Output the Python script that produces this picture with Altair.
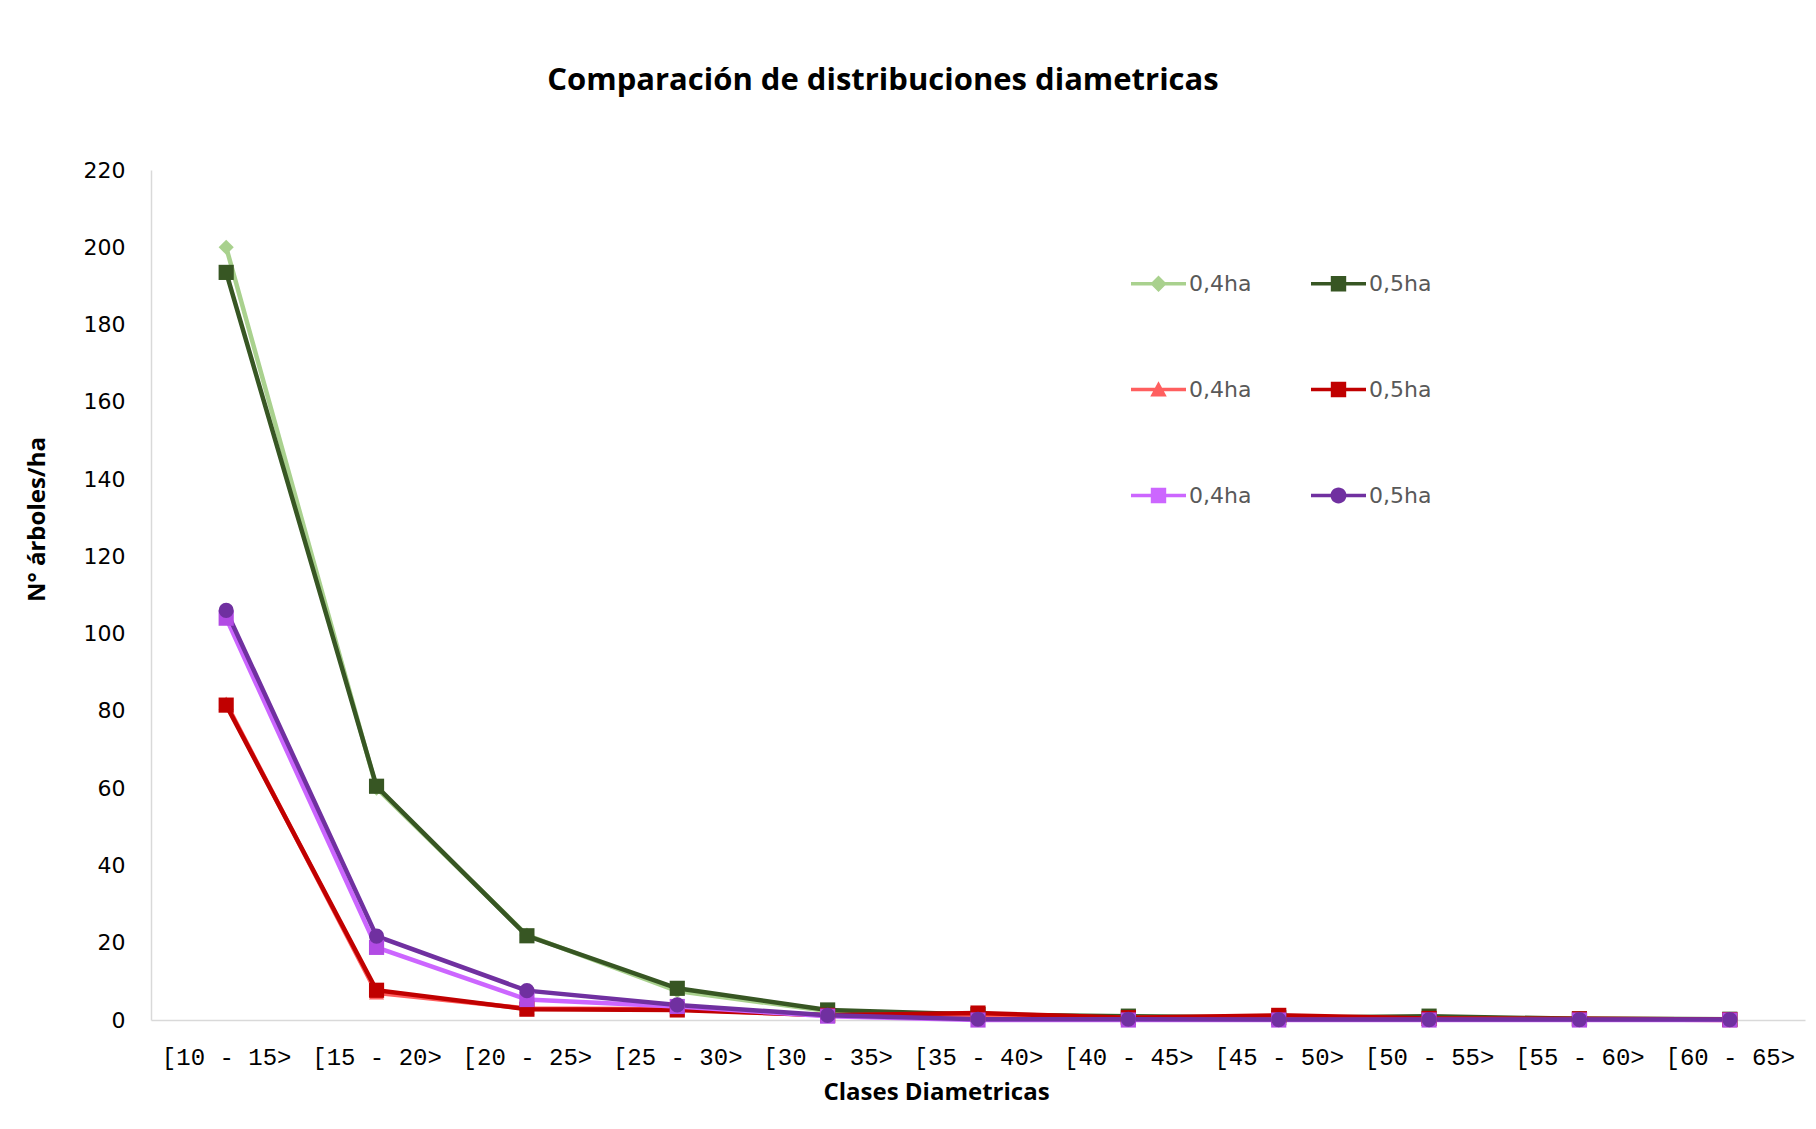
import altair as alt
import pandas as pd

categorias = ["[10 - 15>", "[15 - 20>", "[20 - 25>", "[25 - 30>", "[30 - 35>", "[35 - 40>",
              "[40 - 45>", "[45 - 50>", "[50 - 55>", "[55 - 60>", "[60 - 65>"]

series = ["A|0,4ha", "A|0,5ha", "B|0,4ha", "B|0,5ha", "C|0,4ha", "C|0,5ha"]

verde_04 = [200, 60, 22, 7.5, 2.3, 1.2, 0.8, 0.5, 0.6, 0.3, 0.2]
verde_05 = [193.5, 60.5, 21.8, 8.2, 2.6, 1.4, 1.0, 0.6, 1.0, 0.3, 0.2]
rojo_04 = [82, 7, 3, 2.8, 1.2, 1.4, 0.5, 1.0, 0.3, 0.2, 0]
rojo_05 = [81.5, 7.7, 2.8, 2.6, 1.2, 1.8, 0.6, 1.2, 0.4, 0.3, 0.1]
morado_04 = [104, 18.8, 5.3, 3.5, 1.0, 0, 0, 0, 0, 0, 0]
morado_05 = [106, 21.7, 7.6, 3.9, 1.2, 0.2, 0.2, 0.1, 0.1, 0.1, 0.1]

valores = [verde_04, verde_05, rojo_04, rojo_05, morado_04, morado_05]

colores = ["#A9D18E", "#375623", "#FF5F5F", "#C00000", "#CC66FF", "#7030A0"]
colores_marcador = ["#A9D18E", "#375623", "#FF5F5F", "#C00000", "#B24BE4", "#7030A0"]
formas_grafico = ["diamond", "square", "triangle-up", "square", "square", "circle"]

linea = "M-1,-0.065H1V0.065H-1Z"
marcas_leyenda = [
    linea + "M0,-0.3L0.3,0L0,0.3L-0.3,0Z",
    linea + "M-0.28,-0.28H0.28V0.28H-0.28Z",
    linea + "M0,-0.3L0.3,0.25L-0.3,0.25Z",
    linea + "M-0.28,-0.28H0.28V0.28H-0.28Z",
    linea + "M-0.28,-0.28H0.28V0.28H-0.28Z",
    linea + "M0.29,0A0.29,0.29 0 1,1 -0.29,0A0.29,0.29 0 1,1 0.29,0Z",
]

filas = []
for s, vals in zip(series, valores):
    for c, v in zip(categorias, vals):
        filas.append({"clase": c, "serie": s, "valor": v})
df = pd.DataFrame(filas)


x_enc = alt.X("clase:N", sort=categorias, scale=alt.Scale(padding=0.5),
              axis=alt.Axis(title="Clases Diametricas", labelAngle=0, ticks=False,
                            labelFont="Liberation Mono", labelFontSize=24, labelColor="#000000",
                            labelPadding=25, domainColor="#D9D9D9", domainWidth=1.5,
                            titleFont="Open Sans", titleFontSize=24, titleFontWeight="bold",
                            titleColor="#000000", titleX=785, titleY=72, titleBaseline="middle",
                            titleAlign="center"))
y_enc = alt.Y("valor:Q", scale=alt.Scale(domain=[0, 220], nice=False),
              axis=alt.Axis(title="N° árboles/ha", values=list(range(0, 221, 20)), ticks=False,
                            grid=False, labelFont="DejaVu Sans", labelFontSize=22,
                            labelColor="#000000", labelPadding=26, domainColor="#D9D9D9",
                            domainWidth=1.5, titleFont="Open Sans", titleFontSize=24,
                            titleFontWeight="bold", titleColor="#000000", titleAngle=270,
                            titleX=-114, titleY=349, titleBaseline="middle", titleAlign="center"))

base = alt.Chart(df).encode(x=x_enc, y=y_enc)

lineas = base.mark_line(strokeWidth=4.5).encode(
    color=alt.Color("serie:N", scale=alt.Scale(domain=series, range=colores), legend=None)
)

puntos = base.mark_point(filled=True, opacity=1, size=230).encode(
    color=alt.Color("serie:N", scale=alt.Scale(domain=series, range=colores_marcador),
                    legend=None),
    shape=alt.Shape("serie:N", scale=alt.Scale(domain=series, range=formas_grafico), legend=None),
)

opciones_leyenda = dict(title=None, orient="none", legendX=980, legendY=86,
                        direction="horizontal", columns=2, columnPadding=59, rowPadding=67,
                        symbolSize=3025, symbolStrokeWidth=0, symbolOpacity=1,
                        labelFont="DejaVu Sans", labelFontSize=22,
                        labelColor="#595959", labelOffset=3, padding=0,
                        labelExpr="split(datum.label, '|')[1]")

leyenda = base.transform_filter("false").mark_point(filled=True, opacity=1).encode(
    color=alt.Color("serie:N", scale=alt.Scale(domain=series, range=colores),
                    legend=alt.Legend(**opciones_leyenda)),
    shape=alt.Shape("serie:N", scale=alt.Scale(domain=series, range=marcas_leyenda),
                    legend=alt.Legend(**opciones_leyenda)),
)

chart = alt.layer(lineas, puntos, leyenda).resolve_scale(
    color="independent", shape="independent"
).properties(
    width=1654, height=850,
    title=alt.Title("Comparación de distribuciones diametricas", font="Open Sans",
                    fontSize=31, fontWeight="bold", color="#000000", anchor="middle",
                    dx=-95, offset=62),
    autosize=alt.AutoSizeParams(type="none"),
    padding={"left": 143, "top": 162, "right": 3, "bottom": 101},
).configure(background="#FFFFFF").configure_view(strokeWidth=0, stroke="transparent")

chart.save("out.html", embed_options={"renderer": "svg", "actions": False})
